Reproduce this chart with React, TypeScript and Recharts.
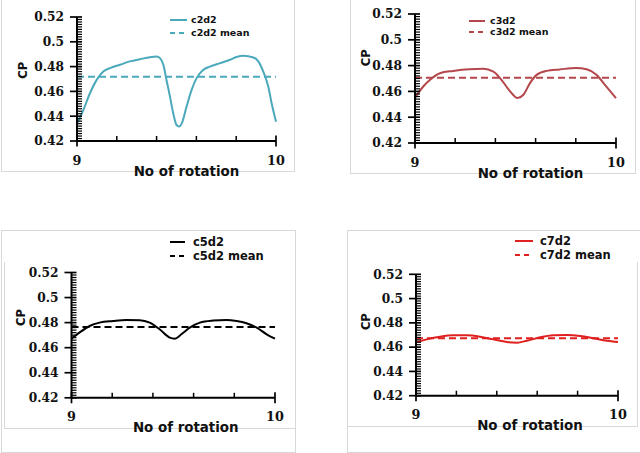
import React from 'react';
import { LineChart, Line, XAxis, YAxis, ReferenceLine } from 'recharts';

// ---------- data ----------
const c2d2Rot = [9, 9.032, 9.065, 9.099, 9.132, 9.166, 9.216, 9.266, 9.317, 9.367, 9.4, 9.417, 9.434, 9.45, 9.467, 9.484, 9.5, 9.513, 9.526, 9.551, 9.576, 9.601, 9.635, 9.668, 9.719, 9.769, 9.802, 9.836, 9.886, 9.911, 9.936, 9.961, 9.978, 10];
const c2d2CP = [0.434, 0.445, 0.4585, 0.4693, 0.476, 0.4788, 0.4815, 0.4842, 0.486, 0.4876, 0.4882, 0.4868, 0.4815, 0.469, 0.456, 0.442, 0.433, 0.4316, 0.434, 0.448, 0.4612, 0.4707, 0.4774, 0.48, 0.4828, 0.4855, 0.4877, 0.4887, 0.4874, 0.4842, 0.476, 0.464, 0.4505, 0.4356];
const c2d2Mean = 0.4718;

const c3d2Rot = [9, 9.041, 9.075, 9.124, 9.19, 9.27, 9.34, 9.39, 9.43, 9.473, 9.51, 9.539, 9.572, 9.605, 9.655, 9.72, 9.8, 9.854, 9.904, 9.945, 10];
const c3d2CP = [0.455, 0.4638, 0.469, 0.4741, 0.4759, 0.4772, 0.4775, 0.4754, 0.469, 0.46, 0.4548, 0.4574, 0.4664, 0.4728, 0.4759, 0.477, 0.4782, 0.4772, 0.4728, 0.4651, 0.4548];
const c3d2Mean = 0.4706;

const c5d2Rot = [9, 9.039, 9.089, 9.138, 9.204, 9.269, 9.335, 9.384, 9.433, 9.483, 9.507, 9.54, 9.581, 9.631, 9.696, 9.762, 9.811, 9.86, 9.91, 9.959, 10];
const c5d2CP = [0.4672, 0.472, 0.4773, 0.48, 0.4813, 0.4821, 0.4819, 0.48, 0.4747, 0.468, 0.4672, 0.4707, 0.476, 0.48, 0.4816, 0.4821, 0.4813, 0.4795, 0.476, 0.4707, 0.4672];
const c5d2Mean = 0.4765;

const c7d2Rot = [9, 9.053, 9.119, 9.185, 9.251, 9.317, 9.383, 9.45, 9.5, 9.549, 9.615, 9.681, 9.747, 9.813, 9.879, 9.945, 10];
const c7d2CP = [0.464, 0.4664, 0.4686, 0.4697, 0.4697, 0.4686, 0.4664, 0.4642, 0.4637, 0.4653, 0.4681, 0.4697, 0.47, 0.4692, 0.4673, 0.4653, 0.4642];
const c7d2Mean = 0.4673;

const yMajorTicks = [0.42, 0.44, 0.46, 0.48, 0.5, 0.52];
const yMinorStep = 0.002;
const xTicks = [9, 9.2, 9.4, 9.6, 9.8, 10];
const xMajorTicks = [9, 10];
const xTitle = 'No of rotation';
const yTitle = 'CP';

const yAllTicks: number[] = [];
for (let i = 0; i < yMajorTicks.length - 1; i++) {
  const a = yMajorTicks[i];
  const b = yMajorTicks[i + 1];
  const n = Math.round((b - a) / yMinorStep);
  for (let k = 0; k < n; k++) yAllTicks.push(Number((a + k * yMinorStep).toFixed(4)));
}
yAllTicks.push(yMajorTicks[yMajorTicks.length - 1]);

const isIn = (arr: number[], v: number) => arr.some((m) => Math.abs(m - v) < 1e-9);

const serif = 'DejaVu Serif';
const sans = 'DejaVu Sans';

// ---------- ticks ----------
const renderYTick = (props: any) => {
  const { x, y, payload } = props;
  const v = payload.value;
  if (!isIn(yMajorTicks, v)) {
    return <line x1={x} x2={x + 5} y1={y} y2={y} stroke="#000" strokeWidth={1.2} />;
  }
  return (
    <g>
      <line x1={x - 7} x2={x + 5} y1={y} y2={y} stroke="#000" strokeWidth={1.7} />
      <text x={x - 13} y={y + 4.3} textAnchor="end" style={{ fontFamily: serif, fontWeight: 700, fontSize: 12.2 }} fill="#111">
        {String(Number(v.toFixed(3)))}
      </text>
    </g>
  );
};

const renderXTick = (props: any) => {
  const { x, y, payload } = props;
  const v = payload.value;
  if (!isIn(xMajorTicks, v)) {
    return <line x1={x} x2={x} y1={y - 5} y2={y} stroke="#000" strokeWidth={1.5} />;
  }
  return (
    <g>
      <line x1={x} x2={x} y1={y - 5.5} y2={y + 5.5} stroke="#000" strokeWidth={1.7} />
      <text x={x} y={y + 23.5} textAnchor="middle" style={{ fontFamily: serif, fontWeight: 700, fontSize: 12.8 }} fill="#111">
        {String(v)}
      </text>
    </g>
  );
};

type PanelProps = {
  name: string;
  rot: number[];
  cp: number[];
  mean: number;
  color: string;
  box: { left: number; top: number; width: number; height: number };
  margin: { top: number; right: number; bottom: number; left: number };
  yTitleOffset: number;
  yTitleFrac: number;
  xTitleShift: number;
  legend: { x1: number; x2: number; tx: number; r1: number; r2: number; fs: number };
};

const Panel = (p: PanelProps) => {
  const data = p.rot.map((r, i) => ({ rot: r, cp: p.cp[i] }));
  const { legend } = p;
  return (
    <>
      <div style={{ position: 'absolute', left: p.box.left, top: p.box.top }}>
        <LineChart width={p.box.width} height={p.box.height} data={data} margin={p.margin}>
          <XAxis
            dataKey="rot"
            type="number"
            domain={[9, 10]}
            ticks={xTicks}
            interval={0}
            tickSize={0}
            tickMargin={0}
            tickLine={false}
            tick={renderXTick}
            axisLine={{ stroke: '#000', strokeWidth: 2 }}
            height={40}
            label={(lp: any) => {
              const vb = lp.viewBox;
              return (
                <text x={vb.x + vb.width / 2 + p.xTitleShift} y={vb.y + 34.5} textAnchor="middle" style={{ fontFamily: sans, fontWeight: 700, fontSize: 13.4 }} fill="#111">
                  {xTitle}
                </text>
              );
            }}
          />
          <YAxis
            type="number"
            domain={[0.42, 0.52]}
            ticks={yAllTicks}
            interval={0}
            tickSize={0}
            tickMargin={0}
            tickLine={false}
            tick={renderYTick}
            axisLine={{ stroke: '#000', strokeWidth: 2 }}
            width={60}
            label={(lp: any) => {
              const vb = lp.viewBox;
              const cx = vb.x + vb.width - p.yTitleOffset;
              const cy = vb.y + vb.height * p.yTitleFrac;
              return (
                <text x={cx} y={cy} transform={`rotate(-90 ${cx} ${cy})`} textAnchor="middle" dominantBaseline="central" style={{ fontFamily: sans, fontWeight: 700, fontSize: 11.5 }} fill="#111">
                  {yTitle}
                </text>
              );
            }}
          />
          <ReferenceLine y={p.mean} stroke={p.color} strokeWidth={2} strokeDasharray="7 4" />
          <Line type="monotone" dataKey="cp" stroke={p.color} strokeWidth={2} dot={false} isAnimationActive={false} />
        </LineChart>
      </div>
      <svg style={{ position: 'absolute', left: 0, top: 0, overflow: 'visible', pointerEvents: 'none' }} width={1} height={1}>
        <line x1={legend.x1} x2={legend.x2} y1={legend.r1} y2={legend.r1} stroke={p.color} strokeWidth={2} />
        <line x1={legend.x1} x2={legend.x2} y1={legend.r2} y2={legend.r2} stroke={p.color} strokeWidth={2} strokeDasharray="5 4" />
        <text x={legend.tx} y={legend.r1 + legend.fs * 0.36} style={{ fontFamily: sans, fontWeight: 700, fontSize: legend.fs }} fill="#111">
          {p.name}
        </text>
        <text x={legend.tx} y={legend.r2 + legend.fs * 0.36} style={{ fontFamily: sans, fontWeight: 700, fontSize: legend.fs }} fill="#111">
          {p.name + ' mean'}
        </text>
      </svg>
    </>
  );
};

const border = '#d8d8d8';

export default function App() {
  return (
    <div style={{ position: 'absolute', left: 0, top: 0, width: 640, height: 453, background: '#fff', overflow: 'hidden' }}>
      {/* panel frames */}
      <div style={{ position: 'absolute', left: 1, top: -2, width: 294, height: 174, border: `1px solid ${border}`, boxSizing: 'border-box' }} />
      <div style={{ position: 'absolute', left: 350, top: -2, width: 286, height: 176, border: `1px solid ${border}`, boxSizing: 'border-box' }} />
      <div style={{ position: 'absolute', left: 1, top: 230, width: 295, height: 223, border: `1px solid ${border}`, boxSizing: 'border-box' }} />
      <div style={{ position: 'absolute', left: 4, top: 262, width: 292, height: 167, borderLeft: `1px solid ${border}`, borderBottom: `1px solid ${border}`, boxSizing: 'border-box' }} />
      <div style={{ position: 'absolute', left: 347, top: 230, width: 300, height: 223, border: `1px solid ${border}`, boxSizing: 'border-box' }} />
      <div style={{ position: 'absolute', left: 347, top: 262, width: 291, height: 165, borderRight: `1px solid ${border}`, borderBottom: `1px solid ${border}`, boxSizing: 'border-box' }} />

      <Panel
        name="c2d2"
        rot={c2d2Rot}
        cp={c2d2CP}
        mean={c2d2Mean}
        color="#4aa9ba"
        box={{ left: 0, top: 0, width: 300, height: 190 }}
        margin={{ top: 17, right: 24, bottom: 9, left: 17 }}
        yTitleOffset={54}
        yTitleFrac={0.43}
        xTitleShift={10}
        legend={{ x1: 170, x2: 187, tx: 191, r1: 20, r2: 33, fs: 9.5 }}
      />
      <Panel
        name="c3d2"
        rot={c3d2Rot}
        cp={c3d2CP}
        mean={c3d2Mean}
        color="#b4474b"
        box={{ left: 330, top: 0, width: 310, height: 190 }}
        margin={{ top: 14, right: 24, bottom: 7, left: 25 }}
        yTitleOffset={49}
        yTitleFrac={0.34}
        xTitleShift={15}
        legend={{ x1: 469, x2: 485, tx: 490, r1: 21, r2: 32, fs: 9.5 }}
      />
      <Panel
        name="c5d2"
        rot={c5d2Rot}
        cp={c5d2CP}
        mean={c5d2Mean}
        color="#000000"
        box={{ left: 0, top: 225, width: 300, height: 228 }}
        margin={{ top: 47.5, right: 25, bottom: 15.2, left: 11.5 }}
        yTitleOffset={50}
        yTitleFrac={0.36}
        xTitleShift={12.5}
        legend={{ x1: 170, x2: 185, tx: 193, r1: 242, r2: 256, fs: 11.5 }}
      />
      <Panel
        name="c7d2"
        rot={c7d2Rot}
        cp={c7d2CP}
        mean={c7d2Mean}
        color="#e01f1f"
        box={{ left: 330, top: 225, width: 310, height: 228 }}
        margin={{ top: 49.3, right: 22, bottom: 17.3, left: 26 }}
        yTitleOffset={50}
        yTitleFrac={0.39}
        xTitleShift={13}
        legend={{ x1: 515, x2: 533, tx: 540, r1: 241, r2: 255, fs: 11.5 }}
      />
    </div>
  );
}
